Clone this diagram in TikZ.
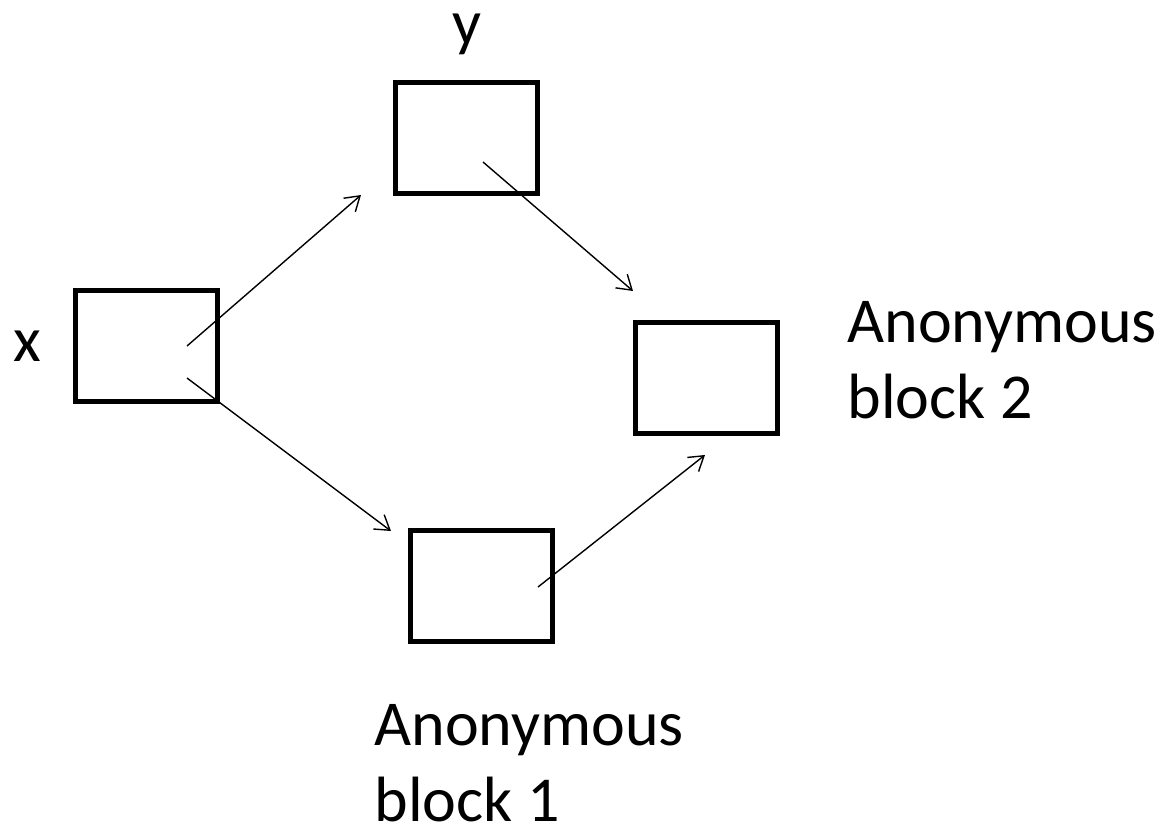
\documentclass[tikz,border=0pt]{standalone}
\usepackage{fontspec}
\setmainfont{Carlito}
\usetikzlibrary{arrows.meta}
\begin{document}
\begin{tikzpicture}[x=0.5pt,y=-0.5pt,
  blk/.style={draw, line width=2.5pt, minimum width=71pt, minimum height=55.5pt, inner sep=0pt},
  conn/.style={line width=0.7pt, -{Straight Barb[length=7pt,width=9pt]}},
  lbl/.style={font=\fontsize{32}{38}\selectfont, inner sep=0pt, align=left}]
\useasboundingbox (0,0) rectangle (1157,824);
\node[blk] (bx) at (146,346) {};
\node[blk] (by) at (466,138) {};
\node[blk] (b2) at (706,378) {};
\node[blk] (b1) at (481,586) {};
\coordinate (s1) at (187,346); \coordinate (e1) at (361,195);
\coordinate (s2) at (187,378); \coordinate (e2) at (391,531);
\coordinate (s3) at (483,162); \coordinate (e3) at (633,291);
\coordinate (s4) at (538,587); \coordinate (e4) at (705,455);
\draw[conn] (s1) -- (e1);
\draw[conn] (s2) -- (e2);
\draw[conn] (s3) -- (e3);
\draw[conn] (s4) -- (e4);
\node[lbl, anchor=base] (lx) at (27,361) {x};
\node[lbl, anchor=base] (ly) at (467,45) {y};
\node[lbl, anchor=base west] (l2) at (847,418) {Anonymous\\block 2};
\node[lbl, anchor=base west] (l1) at (374,821) {Anonymous\\block 1};
\end{tikzpicture}
\end{document}
